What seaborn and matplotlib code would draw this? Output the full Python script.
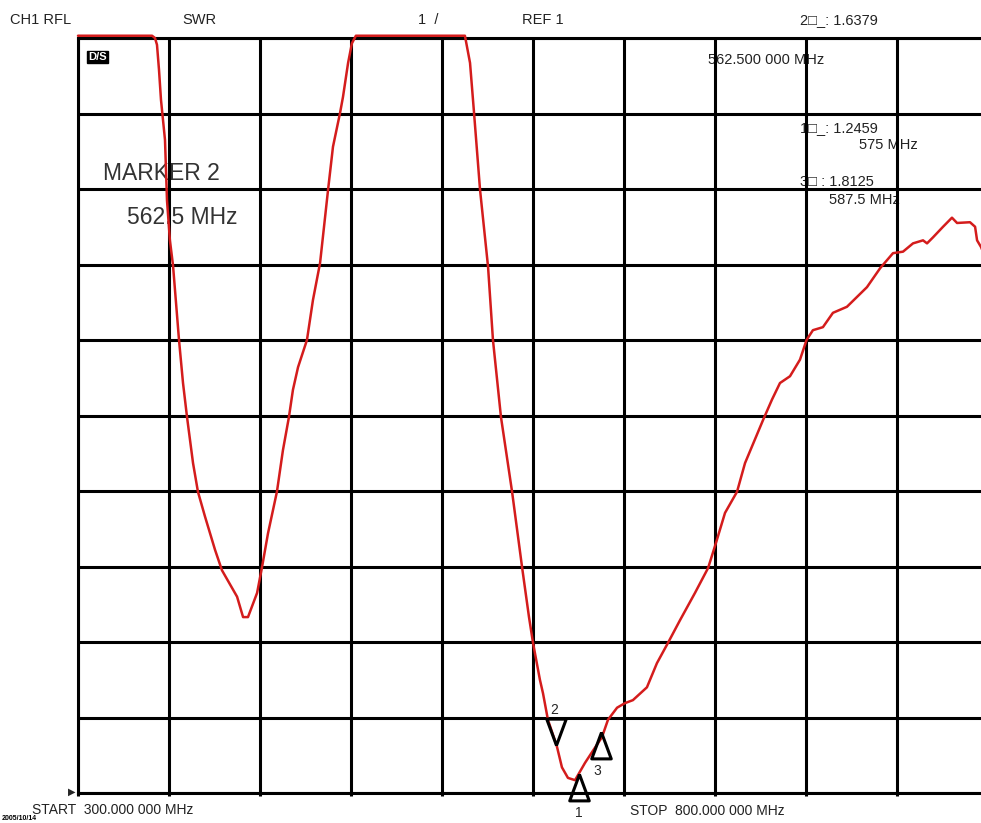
import matplotlib
matplotlib.use("Agg")
import matplotlib.pyplot as plt
import seaborn as sns

# SWR trace (MHz, SWR)
freq_mhz = [300, 340.7, 342.3, 343.4, 344.5, 345.6, 347.8, 348.9, 350.5, 352.2,
            355.5, 357.7, 359.9, 363.2, 365.9, 369.8, 375.3, 379.1, 387.4, 390.7,
            393.4, 398.4, 401.1, 404.4, 409.3, 412.6, 415.9, 418.1, 420.9, 425.8,
            429.1, 433.0, 437.4, 440.1, 444.0, 445.6, 448.4, 450.5, 452.7, 512.6,
            515.4, 517.6, 520.9, 525.3, 528.0, 532.4, 538.5, 544.0, 547.8, 550.0,
            553.8, 555.5, 558.2, 563.2, 565.9, 569.2, 573.1, 578.6, 582.4, 587.9,
            591.2, 596.2, 600.5, 604.9, 612.6, 618.1, 624.2, 630.8, 639.0, 646.2,
            650.5, 655.5, 662.1, 666.5, 676.4, 681.3, 685.7, 691.2, 696.7, 700.3,
            703.8, 709.3, 714.8, 722.5, 728.0, 733.5, 740.7, 747.8, 753.3, 758.8,
            764.3, 766.5, 769.8, 775.3, 780.2, 783.0, 790.1, 792.9, 794.0, 796.2,
            800.0]
swr = [11.03, 11.03, 11.0, 10.91, 10.58, 10.18, 9.65, 8.85, 8.32, 7.99,
       7.00, 6.43, 5.98, 5.37, 4.99, 4.66, 4.22, 3.95, 3.60, 3.33,
       3.33, 3.65, 3.99, 4.44, 4.99, 5.54, 5.98, 6.34, 6.64, 7.00,
       7.53, 8.02, 8.99, 9.56, 10.01, 10.22, 10.67, 10.93, 11.03, 11.03,
       10.67, 10.01, 8.99, 7.97, 7.00, 5.98, 4.99, 3.99, 3.33, 2.99,
       2.50, 2.32, 1.97, 1.61, 1.34, 1.20, 1.17, 1.40, 1.54, 1.74,
       1.97, 2.13, 2.19, 2.23, 2.40, 2.72, 2.99, 3.29, 3.65, 3.98,
       4.31, 4.71, 4.99, 5.37, 5.94, 6.21, 6.43, 6.52, 6.74, 7.00,
       7.13, 7.17, 7.36, 7.44, 7.57, 7.70, 7.95, 8.15, 8.17, 8.28,
       8.32, 8.28, 8.36, 8.50, 8.62, 8.55, 8.56, 8.50, 8.32, 8.23,
       8.0]

# markers
marker_id = ["1", "2", "3"]
marker_freq = [575.0, 562.5, 587.5]
marker_swr = [1.2459, 1.6379, 1.8125]

start_mhz = 300
stop_mhz = 800
ref_swr = 1
top_swr = 11

sns.set_theme(style="white")
plt.rcParams["font.family"] = ["Liberation Sans", "DejaVu Sans"]

W, H = 981, 823
fig = plt.figure(figsize=(W / 100, H / 100), dpi=100)
ax = fig.add_axes([78 / W, 30 / H, 910 / W, 755 / H])

def px(x, y):
    return x / W, 1 - y / H

# grid like the analyzer screen
ax.set_xlim(start_mhz, stop_mhz)
ax.set_ylim(ref_swr, top_swr)
ax.set_xticks(range(start_mhz, stop_mhz + 1, 50))
ax.set_yticks(range(ref_swr, top_swr + 1))
ax.set_xticklabels([])
ax.set_yticklabels([])
ax.grid(True, color="black", lw=2.2)
ax.set_axisbelow(False)
ax.tick_params(axis="x", bottom=True, length=2.5, width=2.2, color="black", direction="out")
ax.tick_params(axis="y", left=False)
for s in ax.spines.values():
    s.set_color("black")
    s.set_linewidth(2.2)

sns.lineplot(x=freq_mhz, y=swr, ax=ax, color="#d41c1c", lw=1.8,
             estimator=None, sort=False, zorder=3, clip_on=False)

# marker triangles, tip on the trace
tri_up = [(0, 0), (-0.37, -1), (0.37, -1), (0, 0)]
tri_down = [(0, 0), (-0.37, 1), (0.37, 1), (0, 0)]
for mid, f, s in zip(marker_id, marker_freq, marker_swr):
    if mid == "2":
        ax.plot(f, s, marker=tri_down, ms=38, mfc="none", mec="black", mew=2.2,
                zorder=4, clip_on=False)
        ax.annotate(mid, (f, s), xytext=(-1, 25), textcoords="offset points",
                    ha="center", va="center", fontsize=10, zorder=4)
    else:
        ax.plot(f, s, marker=tri_up, ms=38, mfc="none", mec="black", mew=2.2,
                zorder=4, clip_on=False)
        dx = -3 if mid == "3" else 0
        ax.annotate(mid, (f, s), xytext=(dx, -28), textcoords="offset points",
                    ha="center", va="center", fontsize=10, zorder=4,
                    annotation_clip=False)

# header line
top_kw = dict(fontsize=10.5, va="center", ha="left", color="#222222")
fig.text(*px(10, 20), "CH1 RFL", **top_kw)
fig.text(*px(182, 20), "SWR", **top_kw)
fig.text(*px(418, 20), "1  /", **top_kw)
fig.text(*px(522, 20), "REF 1", **top_kw)
fig.text(*px(800, 20), "2\u25a1_: 1.6379", **top_kw)

# readouts inside the screen (drawn under the grid)
in_kw = dict(fontsize=10.5, va="center", transform=fig.transFigure, zorder=1,
             color="#222222")
ax.text(*px(708, 60), "562.500 000 MHz", ha="left", **in_kw)
ax.text(*px(800, 128), "1\u25a1_: 1.2459", ha="left", **in_kw)
ax.text(*px(918, 145), "575 MHz", ha="right", **in_kw)
ax.text(*px(800, 182), "3\u25a1 : 1.8125", ha="left", **in_kw)
ax.text(*px(900, 200), "587.5 MHz", ha="right", **in_kw)

big_kw = dict(fontsize=16.5, va="center", transform=fig.transFigure, zorder=1,
              color="#333333")
ax.text(*px(103, 174), "MARKER 2", ha="left", **big_kw)
ax.text(*px(127, 217), "562.5 MHz", ha="left", **big_kw)

# small status badge
ax.text(*px(88, 57), "D/S", ha="left", va="center", transform=fig.transFigure,
        fontsize=8, fontweight="bold", color="white", zorder=5,
        bbox=dict(boxstyle="square,pad=0.1", fc="black", ec="black"))

# reference level marker at left
fig.text(*px(72, 792), "\u25b6", fontsize=7, ha="center", va="center",
         family=["DejaVu Sans"])

# footer
bot_kw = dict(fontsize=10, va="center", ha="left", color="#222222")
fig.text(*px(32, 810), "START  300.000 000 MHz", **bot_kw)
fig.text(*px(630, 811), "STOP  800.000 000 MHz", **bot_kw)
fig.text(*px(2, 822), "2005/10/14", fontsize=5, fontweight="bold", va="bottom",
         ha="left", color="black")

fig.savefig("out.png", dpi=100, facecolor="white")
